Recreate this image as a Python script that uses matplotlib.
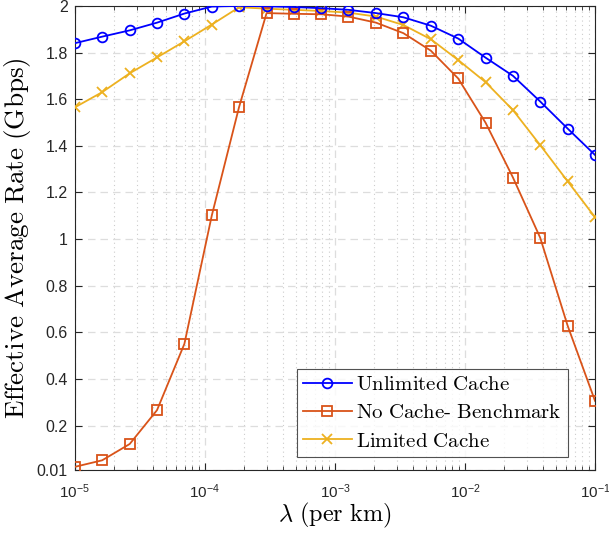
import numpy as np
import matplotlib
matplotlib.use('Agg')
import matplotlib.pyplot as plt
from matplotlib.ticker import LogLocator, NullFormatter

plt.rcParams['mathtext.fontset'] = 'cm'
plt.rcParams['font.family'] = 'Liberation Sans'

# lambda values (per km), 20 log-spaced points
lam = [1.00e-5, 1.62e-5, 2.64e-5, 4.28e-5, 6.95e-5, 1.13e-4, 1.83e-4, 2.98e-4,
       4.83e-4, 7.85e-4, 1.27e-3, 2.07e-3, 3.36e-3, 5.46e-3, 8.86e-3, 1.44e-2,
       2.34e-2, 3.79e-2, 6.16e-2, 1.00e-1]

unlimited = [1.840, 1.868, 1.895, 1.928, 1.967, 1.997, 2.000, 1.998, 1.995, 1.990,
             1.983, 1.969, 1.951, 1.915, 1.860, 1.778, 1.700, 1.590, 1.474, 1.361]
no_cache = [0.024, 0.052, 0.122, 0.267, 0.551, 1.102, 1.566, 1.969, 1.966, 1.964,
            1.954, 1.928, 1.883, 1.808, 1.689, 1.499, 1.264, 1.006, 0.629, 0.307]
limited = [1.565, 1.630, 1.711, 1.779, 1.848, 1.920, 1.994, 1.988, 1.983, 1.978,
           1.971, 1.954, 1.918, 1.857, 1.768, 1.673, 1.553, 1.403, 1.248, 1.094]

yticks = [0.01, 0.2, 0.4, 0.6, 0.8, 1.0, 1.2, 1.4, 1.6, 1.8, 2.0]
ytick_labels = ['0.01', '0.2', '0.4', '0.6', '0.8', '1', '1.2', '1.4', '1.6', '1.8', '2']

fig = plt.figure(figsize=(6.09, 5.33), dpi=100)
ax = fig.add_axes([0.123, 0.118, 0.854, 0.871])

ax.plot(lam, unlimited, color='#0000FF', lw=1.3, marker='o', ms=7,
        mfc='none', mew=1.3, label=r'$\mathrm{Unlimited\ Cache}$', zorder=5)
ax.plot(lam, no_cache, color='#D95319', lw=1.3, marker='s', ms=7.5,
        mfc='none', mew=1.3, label=r'$\mathrm{No\ Cache\text{-}\ Benchmark}$', zorder=4)
ax.plot(lam, limited, color='#EDB120', lw=1.3, marker='x', ms=7,
        mew=1.3, label=r'$\mathrm{Limited\ Cache}$', zorder=3)

ax.set_xscale('log')
ax.set_xlim(1e-5, 1e-1)
ax.set_ylim(0.01, 2)
ax.set_yticks(yticks)
ax.set_yticklabels(ytick_labels)
ax.xaxis.set_minor_locator(LogLocator(base=10, subs=np.arange(2, 10), numticks=50))
ax.xaxis.set_minor_formatter(NullFormatter())

ax.tick_params(which='both', direction='in', top=True, right=True,
               labelsize=11.5, colors='#262626')
ax.tick_params(which='major', length=5)
ax.tick_params(which='minor', length=3)
ax.tick_params(axis='x', which='major', pad=9, labelsize=11)
ax.tick_params(axis='y', which='major', pad=5)
for s in ax.spines.values():
    s.set_color('#262626')
    s.set_linewidth(0.8)

ax.grid(which='major', axis='both', ls=(0, (6, 4)), color='#dddddd', lw=0.9)
ax.grid(which='minor', axis='x', ls=(0, (1, 3)), color='#cccccc', lw=0.8)
ax.set_axisbelow(True)

ax.set_xlabel(r'$\lambda\ \mathrm{(per\ km)}$', fontsize=17.5, labelpad=0)
ax.set_ylabel(r'$\mathrm{Effective\ Average\ Rate\ (Gbps)}$', fontsize=19.5, labelpad=3)

leg = ax.legend(loc='lower right', bbox_to_anchor=(0.96, 0.015), fontsize=15,
                frameon=True, fancybox=False, edgecolor='#262626',
                handlelength=2.35, handletextpad=0.2, borderpad=0.3,
                labelspacing=0.45, borderaxespad=0.3)
leg.get_frame().set_linewidth(0.8)

fig.savefig('out.png', dpi=100)
